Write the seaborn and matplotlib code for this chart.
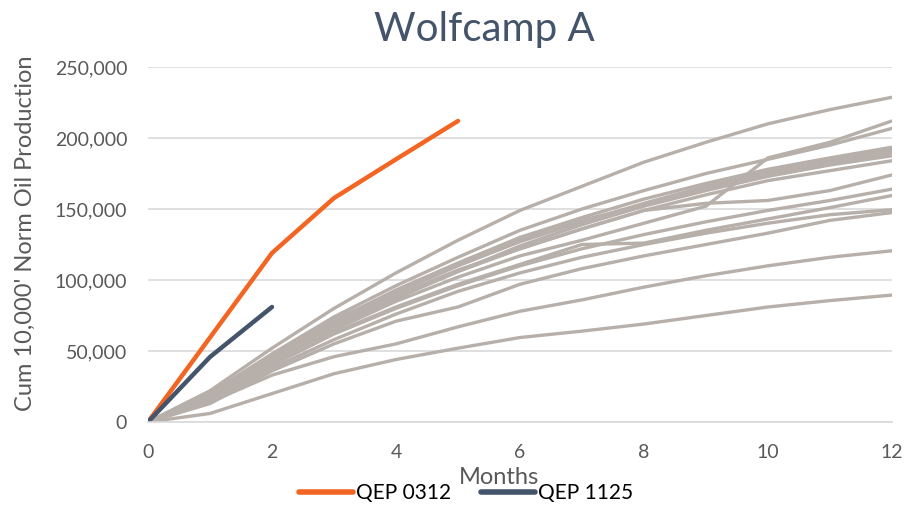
import matplotlib
matplotlib.use("Agg")
import matplotlib.pyplot as plt
import seaborn as sns
import pandas as pd
import numpy as np
from matplotlib.ticker import FuncFormatter

months = list(range(13))

# Offset wells (grey), cumulative oil by month 0..12
offset_wells = {
    "W01": [0, 22000, 52000, 80000, 105000, 128000, 149000, 166000, 183000, 197000, 210000, 220000, 228700],
    "W02": [0, 17000, 42000, 65000, 85000, 102000, 117000, 128000, 140000, 152000, 186000, 197000, 212000],
    "W03": [0, 20000, 48000, 74000, 96000, 116000, 135000, 150000, 163000, 175000, 185000, 195000, 206800],
    "W04": [0, 19000, 46000, 71000, 93000, 112000, 130000, 144000, 157000, 168000, 178000, 186000, 193500],
    "W05": [0, 18000, 45000, 70000, 91000, 110000, 127000, 141000, 154000, 166000, 176000, 184000, 191500],
    "W06": [0, 20000, 47000, 72000, 92000, 111000, 128000, 142000, 153000, 164000, 174000, 182000, 189500],
    "W07": [0, 16000, 42000, 66000, 87000, 106000, 124000, 139000, 152000, 163000, 173000, 181000, 187500],
    "W08": [0, 17000, 44000, 68000, 88000, 106000, 122000, 136000, 149000, 160000, 170000, 177000, 184000],
    "W09": [0, 18000, 45000, 69000, 89000, 107000, 122000, 136000, 149000, 154000, 156000, 163000, 174000],
    "W10": [0, 15000, 40000, 62000, 80000, 96000, 110000, 122000, 132000, 141000, 149000, 156000, 164000],
    "W11": [0, 16000, 41000, 63000, 81000, 97000, 111000, 125000, 126000, 135000, 143000, 151000, 159500],
    "W12": [0, 14000, 38000, 58000, 76000, 92000, 105000, 116000, 125000, 133000, 140000, 146000, 149500],
    "W13": [0, 13000, 36000, 55000, 71000, 81000, 97000, 108000, 117000, 125000, 133000, 142000, 147500],
    "W14": [0, 14000, 33000, 46000, 55000, 67000, 78000, 86000, 95000, 103000, 110000, 116000, 120600],
    "W15": [0, 6000, 20000, 34000, 44000, 52000, 59500, 64000, 69000, 75000, 81000, 85500, 89400],
}

qep_0312_months = [0, 1, 2, 3, 4, 5]
qep_0312_values = [0, 59500, 119000, 157700, 185000, 212000]
qep_1125_months = [0, 1, 2]
qep_1125_values = [0, 45800, 81000]

GREY = "#B7AFA9"
ORANGE = "#F26522"
NAVY = "#44546A"
TXT = "#595959"

grey_df = pd.DataFrame(
    [(w, m, v) for w, vals in offset_wells.items() for m, v in zip(months, vals)],
    columns=["Well", "Month", "Cum"],
)
qep_df = pd.concat([
    pd.DataFrame({"Well": "QEP 0312", "Month": qep_0312_months, "Cum": qep_0312_values}),
    pd.DataFrame({"Well": "QEP 1125", "Month": qep_1125_months, "Cum": qep_1125_values}),
])

sns.set_theme(style="white")
plt.rcParams["font.family"] = ["Lato", "DejaVu Sans"]

fig = plt.figure(figsize=(9.05, 5.05), dpi=100)
ax = fig.add_axes([148/905, 1 - 422/505, (892-148)/905, (422-67)/505])

sns.lineplot(data=grey_df, x="Month", y="Cum", units="Well", estimator=None,
             color=GREY, linewidth=2.4, legend=False, ax=ax,
             solid_capstyle="round", solid_joinstyle="round")
sns.lineplot(data=qep_df, x="Month", y="Cum", hue="Well",
             palette={"QEP 0312": ORANGE, "QEP 1125": NAVY},
             linewidth=3.2, ax=ax, solid_capstyle="round", solid_joinstyle="round")

ax.set_xlim(0, 12)
ax.set_ylim(0, 250000)
ax.set_xticks(range(0, 13, 2))
ax.set_yticks(range(0, 250001, 50000))
ax.yaxis.set_major_formatter(FuncFormatter(lambda v, p: f"{int(v):,}"))
ax.grid(axis="y", color="#D9D9D9", linewidth=1.2)
ax.set_axisbelow(True)
for s in ["top", "right", "left"]:
    ax.spines[s].set_visible(False)
ax.spines["bottom"].set_color("#D9D9D9")
ax.spines["bottom"].set_linewidth(1.2)
ax.tick_params(axis="both", length=0, labelsize=14, colors=TXT)
ax.tick_params(axis="y", pad=15)
ax.tick_params(axis="x", pad=16)

ax.set_xlabel("Months", fontsize=17, color=TXT)
ax.xaxis.set_label_coords((499-148)/744, (422-478)/355)
ax.xaxis.label.set_va("center")
ax.set_ylabel("Cum 10,000' Norm Oil Production", fontsize=17, color=TXT)
ax.yaxis.set_label_coords((25-148)/744, (422-233)/355)
ax.yaxis.label.set_va("center")

fig.text(484/905, 1 - 30/505, "Wolfcamp A", ha="center", va="center",
         fontsize=29, color=NAVY)

sns.move_legend(ax, "center", bbox_to_anchor=(466/905, 1 - 493/505),
                bbox_transform=fig.transFigure, ncol=2, frameon=False, title=None,
                fontsize=15, handlelength=2.6, handletextpad=0.15, columnspacing=1.4,
                labelcolor="#000000")
for line in ax.get_legend().get_lines():
    line.set_linewidth(4)

fig.savefig("out.png", dpi=100)
